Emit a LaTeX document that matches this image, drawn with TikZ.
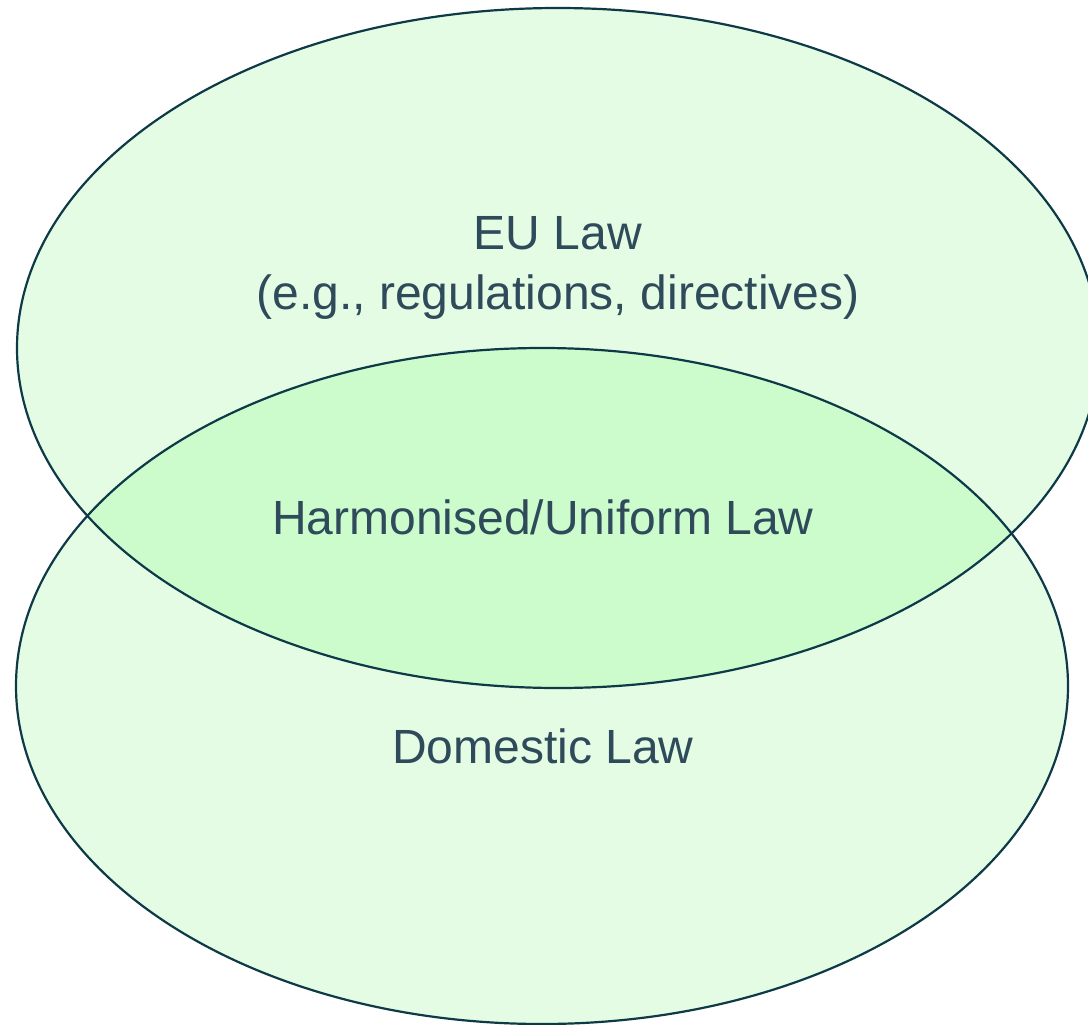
\documentclass[tikz,border=0pt]{standalone}
\usepackage{fontspec}
\setmainfont{Liberation Sans}
\definecolor{setfill}{HTML}{E3FCE3}
\definecolor{overlapfill}{HTML}{CCFCCC}
\definecolor{setline}{HTML}{0E3A48}
\definecolor{labeltext}{HTML}{2F4A5A}
\begin{document}
\begin{tikzpicture}[x=1pt,y=-1pt,
  setoutline/.style={draw=setline,line width=2.2pt},
  setlabel/.style={text=labeltext,font=\fontsize{48}{60}\selectfont,align=center,inner sep=0pt}]
\useasboundingbox (0,0) rectangle (1088,1025);
% the two sets
\fill[setfill] (558,348) ellipse [x radius=541,y radius=340];
\fill[setfill] (542,686) ellipse [x radius=526,y radius=338];
% their overlap
\begin{scope}
  \clip (558,348) ellipse [x radius=541,y radius=340];
  \fill[overlapfill] (542,686) ellipse [x radius=526,y radius=338];
\end{scope}
\draw[setoutline] (558,348) ellipse [x radius=541,y radius=340];
\draw[setoutline] (542,686) ellipse [x radius=526,y radius=338];
% labels
\node[setlabel] (eu) at (558,268) {EU Law\\(e.g., regulations, directives)};
\node[setlabel] (harm) at (543,517) {Harmonised/Uniform Law};
\node[setlabel] (dom) at (543,746) {Domestic Law};
\end{tikzpicture}
\end{document}
